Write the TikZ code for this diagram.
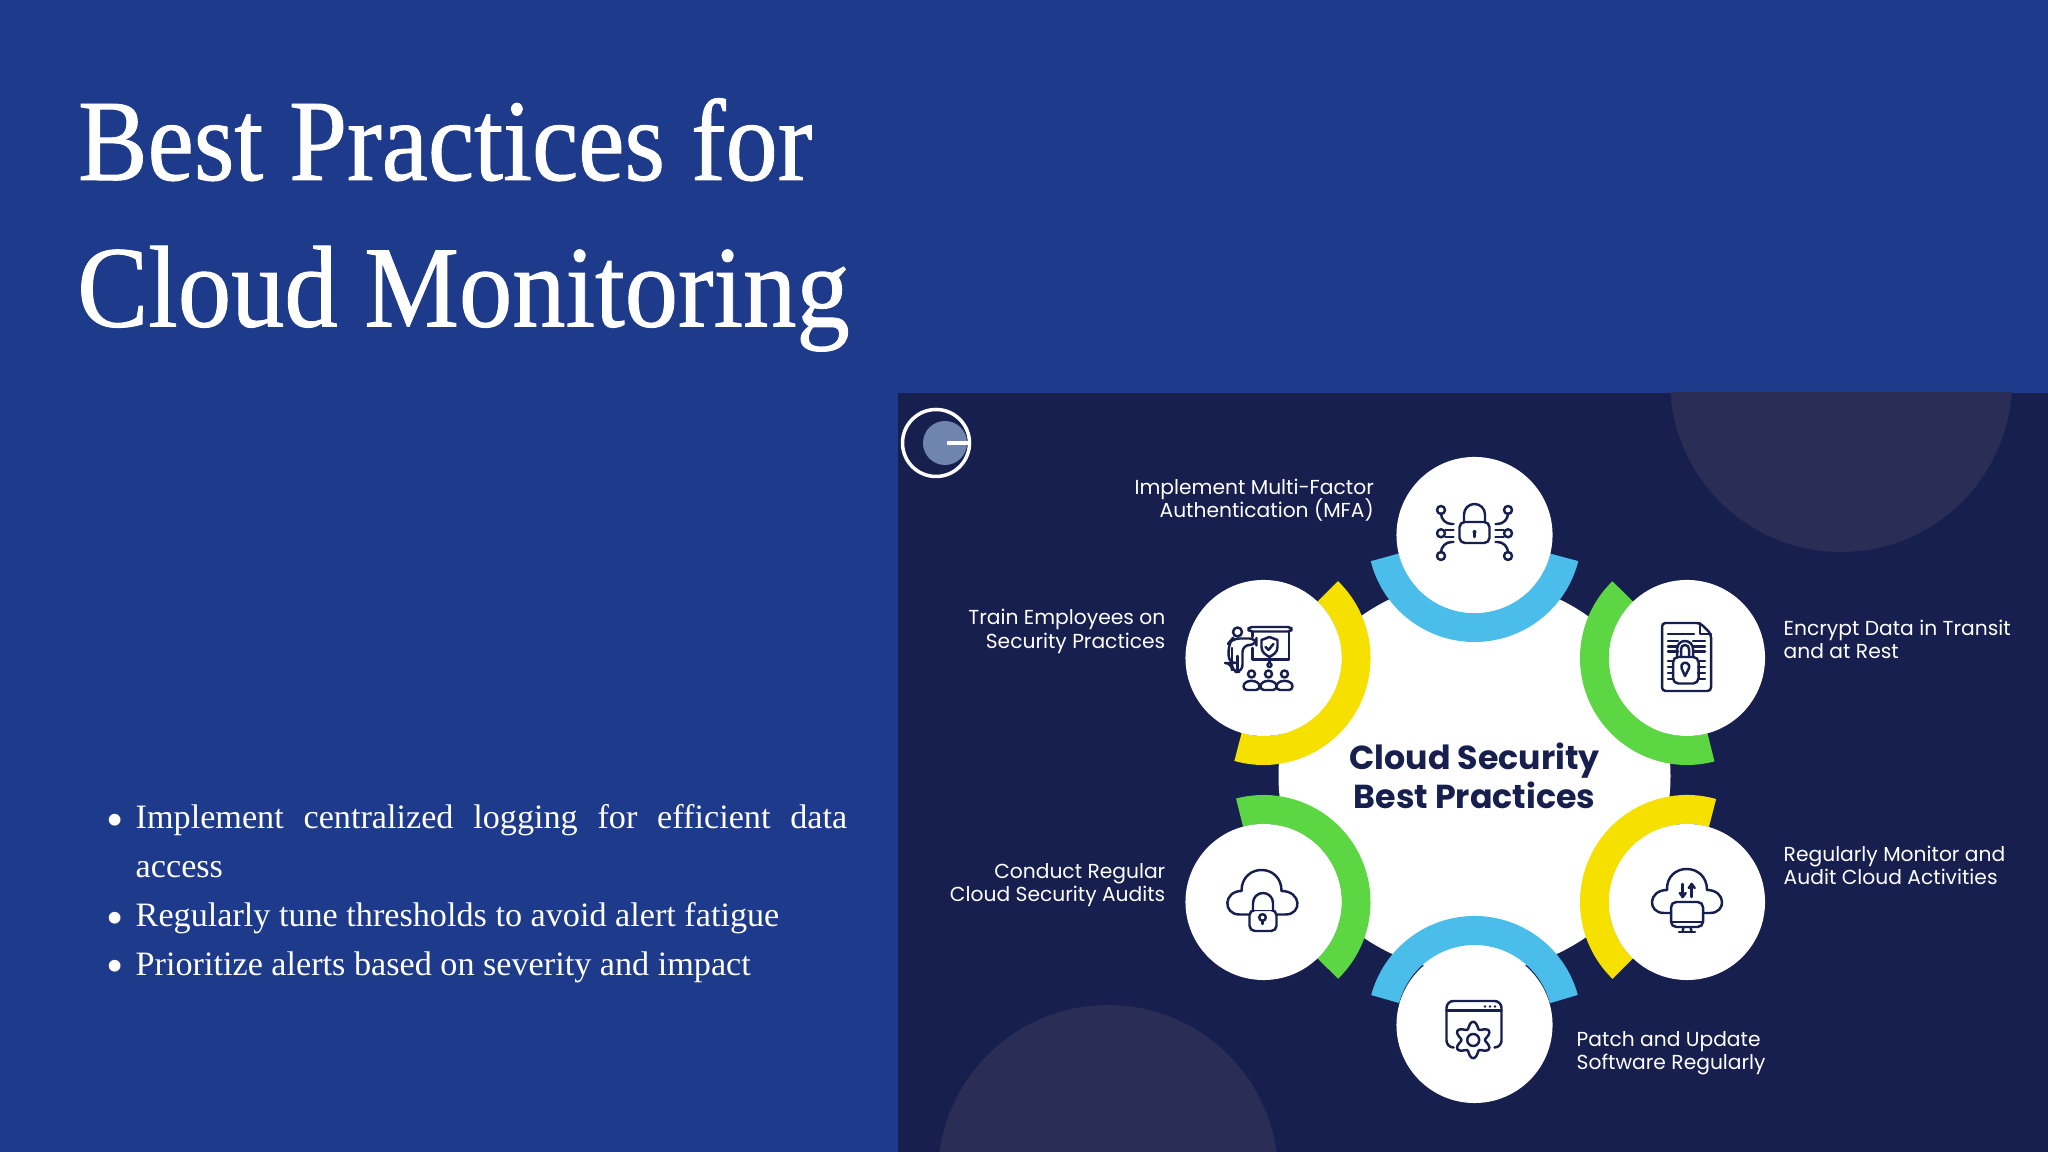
\documentclass[tikz,border=0pt]{standalone}
\usepackage{fontspec}
\setmainfont{Liberation Serif}
\newfontfamily\headfont[FakeStretch=0.897,FakeBold=0.8]{Liberation Serif}
\newfontfamily\headfontwide[FakeStretch=0.918,FakeBold=0.8]{Liberation Serif}
\newfontfamily\labelfont{Poppins}
\renewcommand{\labelitemi}{\raisebox{-2.15pt}{\fontsize{14}{14}\selectfont\textbullet}}
\setlength{\lineskiplimit}{-5pt}
\definecolor{slidebg}{HTML}{1E3A8A}
\definecolor{panelbg}{HTML}{161F4E}
\definecolor{decobg}{HTML}{2A2D55}
\definecolor{ringblue}{HTML}{4BBDEA}
\definecolor{ringgreen}{HTML}{5CD642}
\definecolor{ringyellow}{HTML}{F5E000}
\definecolor{logoblue}{HTML}{6F85AE}
\tikzset{
  spot/.style={circle,fill=white,minimum size=1.56cm,inner sep=0pt},
  ring/.style={line width=0.29cm},
  icon/.style={draw=panelbg,line width=0.7pt,line join=round,line cap=round},
  heading/.style={anchor=base west,text=white,inner sep=0pt},
  tag/.style={text=white,inner sep=0pt,font=\labelfont\fontsize{5.76}{6.6}\selectfont},
}
\begin{document}
\begin{tikzpicture}[x=0.01cm,y=0.01cm]
            \useasboundingbox (0,0) rectangle (2048,1152);
            \fill[slidebg] (0,0) rectangle (2048,1152);
            \fill[panelbg] (898,0) rectangle (2048,759);
            \begin{scope}
                \clip (898,0) rectangle (2048,759);
                \fill[decobg] (1841,771) circle (171);
                \fill[decobg] (1108,-23) circle (170);
            \end{scope}
            \coordinate (M) at (1474.5,376);
            \node[heading,font=\headfont\fontsize{33}{33}\selectfont] (title1) at (77.5,972) {Best Practices for};
            \node[heading,font=\headfontwide\fontsize{33}{33}\selectfont] (title2) at (76.5,825.5) {Cloud Monitoring};
            \node[anchor=north west,inner sep=0pt,text=white,text width=7.47cm,align=justify,font=\fontsize{9.72}{13.9}\selectfont] (points) at (99,401) {%
                \setlength{\leftmargini}{0.36cm}\setlength{\labelsep}{3.5pt}%
                \begin{itemize}\setlength{\itemsep}{0pt}\setlength{\parsep}{0pt}\setlength{\topsep}{0pt}\setlength{\partopsep}{0pt}\setlength{\parskip}{0pt}
                \item Implement centralized logging for efficient data \mbox{access}
                \item Regularly tune thresholds to avoid alert fatigue
                \item Prioritize alerts based on severity and impact
                \end{itemize}};
            \draw[white,line width=1pt] (936,709) circle (33.5);
            \fill[logoblue] (945,709) circle (22);
            \coordinate (L) at (947,709);
            \coordinate (R) at (969.5,709);
            \draw[white,line width=1pt] (L)--(R);
            \fill[white] (1474.5,376) circle (196);
            \coordinate (A) at (1474.5,617);
            \coordinate (B) at (1687,494);
            \coordinate (C) at (1687,250);
            \coordinate (D) at (1474.5,127);
            \coordinate (E) at (1263.5,250);
            \coordinate (F) at (1263.5,494);
            \coordinate (G) at (1474.5,129);
            \draw[ring,ringblue] ([shift={(194:92.5)}]A) arc[start angle=194,end angle=346,radius=92.5];
            \draw[ring,ringgreen] ([shift={(134:92.5)}]B) arc[start angle=134,end angle=285,radius=92.5];
            \draw[ring,ringyellow] ([shift={(74:92.5)}]C) arc[start angle=74,end angle=226,radius=92.5];
            \draw[ring,ringblue] ([shift={(15:92.5)}]G) arc[start angle=15,end angle=165,radius=92.5];
            \draw[ring,ringgreen] ([shift={(-46:92.5)}]E) arc[start angle=-46,end angle=105,radius=92.5];
            \draw[ring,ringyellow] ([shift={(-106:92.5)}]F) arc[start angle=-106,end angle=46,radius=92.5];
            \node[spot] (mfa) at (A) {};
            \node[spot] (encrypt) at (B) {};
            \node[spot] (monitor) at (C) {};
            \node[spot] (patch) at (D) {};
            \node[spot] (audit) at (E) {};
            \node[spot] (train) at (F) {};
            \node[text=panelbg,inner sep=0pt,align=center,font=\labelfont\bfseries\fontsize{9.45}{10.9}\selectfont] (centre) at (M) {Cloud Security\\Best Practices};
            \node[tag,anchor=east,align=right] (mfatext) at (1374.5,651.5) {Implement Multi-Factor\\Authentication (MFA)};
            \node[tag,anchor=east,align=right] (traintext) at (1166,520.5) {Train Employees on\\Security Practices};
            \node[tag,anchor=east,align=right] (audittext) at (1166,266.5) {Conduct Regular\\Cloud Security Audits};
            \node[tag,anchor=west,align=left] (encrypttext) at (1783,512.5) {Encrypt Data in Transit\\and at Rest};
            \node[tag,anchor=west,align=left] (monitortext) at (1783,286.5) {Regularly Monitor and\\Audit Cloud Activities};
            \node[tag,anchor=west,align=left] (patchtext) at (1576,98.5) {Patch and Update\\Software Regularly};
            \begin{scope}[shift={(mfa)},icon]
                \draw[rounded corners=1.5] (-15,-8) rectangle (15,13);
                \draw (-10.5,13)--(-10.5,20.5) arc[start angle=180,end angle=0,radius=10.5]--(10.5,13);
                \fill[panelbg] (0,3) circle (2);
                \draw (0,3)--(0,-2);
                \foreach \s in {-1,1} {
                    \draw (\s*33.5,25) circle (4);
                    \draw (\s*33.5,1.7) circle (4);
                    \draw (\s*33.5,-21) circle (4);
                    \draw[rounded corners=3] (\s*33.5,21)--(\s*33.5,11)--(\s*21,11);
                    \draw (\s*29,5)--(\s*21,5);
                    \draw (\s*29,-2)--(\s*21,-2);
                    \draw[rounded corners=3] (\s*33.5,-17)--(\s*33.5,-7)--(\s*21,-7);
                }
            \end{scope}
            \begin{scope}[shift={(encrypt)},icon]
                \draw[rounded corners=1] (-25,-33)--(-25,35)--(13,35)--(24,24)--(24,-33)--cycle;
                \draw (13,35)--(13,24)--(24,24);
                \draw (-19,24)--(7,24);
                \foreach \y in {17,11.5,6.5} {
                    \draw (-19,\y)--(-9,\y);
                    \draw (6,\y)--(18,\y);
                }
                \foreach \y in {-3,-9,-15,-21} {
                    \draw (-19,\y)--(-14,\y);
                    \draw (11,\y)--(18,\y);
                }
                \draw[rounded corners=1.5] (-14,-25.5) rectangle (11.5,1);
                \draw (-10,1)--(-10,9) arc[start angle=180,end angle=0,radius=8]--(6,1);
                \draw (-6,1)--(-6,9) arc[start angle=180,end angle=0,radius=4]--(2,1);
                \draw (-5.5,-10) arc[start angle=200,end angle=-20,radius=4]--(-2,-18)--cycle;
            \end{scope}
            \begin{scope}[shift={(monitor)},icon]
                \draw (-16,-11)--(-23,-11) .. controls (-40,-11) and (-39,12) .. (-20,12) .. controls (-21,40) and (20,40) .. (20,12) .. controls (39,12) and (40,-11) .. (23,-11)--(16,-11);
                \draw[rounded corners=1.5,fill=white] (-16,-25) rectangle (16,0);
                \draw (-16,-20)--(16,-20);
                \draw (-3.5,-25)--(-4.5,-30);
                \draw (3.5,-25)--(4.5,-30);
                \draw (-8,-30)--(8,-30);
                \draw (-4.3,18)--(-4.3,5);
                \draw (-7.3,9)--(-4.3,5)--(-1.3,9);
                \draw (4.7,5)--(4.7,18);
                \draw (1.7,14)--(4.7,18)--(7.7,14);
            \end{scope}
            \begin{scope}[shift={(patch)},icon]
                \draw[rounded corners=2] (-22,-22.5)--(-28,-22.5)--(-28,24)--(27,24)--(27,-22.5)--(21,-22.5);
                \draw (-28,14.5)--(27,14.5);
                \foreach \x in {10.5,15.5,20.5} {
                    \fill[panelbg] (\x,18.5) circle (1.4);
                }
                \draw[fill=white,shift={(-1.3,-15)}] plot[domain=0:355,samples=72,smooth cycle] (\x:{15-3.2*cos(6*\x)});
                \draw (-1.3,-15) circle (6);
            \end{scope}
            \begin{scope}[shift={(audit)},icon]
                \draw (-14,-12.5)--(-24,-12.5) .. controls (-41,-12.5) and (-40,11) .. (-22,11) .. controls (-22,39) and (18,39) .. (18,11) .. controls (38,11) and (39,-12.5) .. (22,-12.5)--(13,-12.5);
                \draw[rounded corners=1.5,fill=white] (-14,-29) rectangle (13,-8);
                \draw[fill=white] (-10.5,-8)--(-10.5,-1) arc[start angle=180,end angle=0,radius=10]--(9.5,-8);
                \draw (-1,-15.5) circle (3.3);
                \draw (-1,-18.8)--(-1,-22);
            \end{scope}
            \begin{scope}[shift={(train)},icon]
                \draw[rounded corners=1] (-15,26.5) rectangle (28,31);
                \draw (-11,26.5)--(-11,21);
                \draw (-11,10)--(-11,-1.5)--(25.5,-1.5)--(25.5,26.5);
                \draw (6,21)--(14,18)--(14,11) .. controls (14,5) and (9,3) .. (6,1) .. controls (3,3) and (-2,5) .. (-2,11)--(-2,18)--cycle;
                \draw (2,11)--(5,8)--(10,14);
                \draw (6,-1.5)--(6,-5);
                \draw (6,-7) circle (2);
                \draw (-26,26) circle (4.5);
                \draw[rounded corners=2] (-7,19.5)--(-31,19.5)--(-34.8,15)--(-34.8,-5)--(-31.5,-5)--(-31.5,-14)--(-21,-14)--(-21,13)--(-7,13)--cycle;
                \draw (-26,-14)--(-26,2);
                \draw (-31.5,-5)--(-31.5,10);
                \foreach \x in {-12,5,21} {
                    \draw (\x,-16) circle (3.5);
                    \draw[rounded corners=1] (\x-8,-32) .. controls (\x-8,-21) and (\x+8,-21) .. (\x+8,-32)--cycle;
                }
            \end{scope}
        \end{tikzpicture}
\end{document}
